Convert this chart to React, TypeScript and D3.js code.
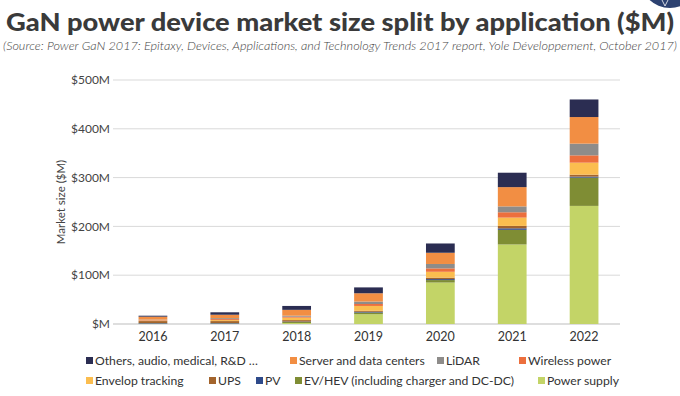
import React from "react";
import * as d3 from "d3";

const years = ["2016", "2017", "2018", "2019", "2020", "2021", "2022"];

// stacked from bottom to top
const seriesNames = [
  "Power supply",
  "EV/HEV (including charger and DC-DC)",
  "PV",
  "UPS",
  "Envelop tracking",
  "Wireless power",
  "LiDAR",
  "Server and data centers",
  "Others, audio, medical, R&D …",
];

const powerSupply = [0.5, 0.5, 2, 20, 85, 163, 242];
const evHev = [0.5, 0.5, 2, 3.5, 5, 30, 58];
const pv = [1, 1, 1, 1.5, 2, 3, 2];
const ups = [4, 4, 3, 2, 3, 5, 4];
const envelop = [1, 2, 5, 10, 12, 17, 24.6];
const wireless = [1, 2, 2, 4, 7, 11, 15];
const lidar = [1, 2, 2, 5, 9, 12, 24];
const server = [6, 7, 12, 17, 23, 39.5, 54.5];
const others = [2, 5, 8, 12, 19, 29.5, 36];

const seriesValues = [powerSupply, evHev, pv, ups, envelop, wireless, lidar, server, others];

const colors = [
  "#c3d467",
  "#7f8d34",
  "#2e4a8a",
  "#a3642c",
  "#fbbd4f",
  "#ec6f3d",
  "#8e8c8a",
  "#f28e43",
  "#2b2d52",
];

const yTicks = [0, 100, 200, 300, 400, 500];

// legend rows, in display order
const legendRow1 = [8, 7, 6, 5];
const legendRow2 = [4, 3, 2, 1, 0];
const legendX1 = [86, 290, 437, 519];
const legendX2 = [86, 209, 256, 295, 538];

const W = 680;
const H = 396;
const font = "Lato, 'Open Sans', sans-serif";

export default function App() {
  const margin = { left: 117, right: 60, top: 80, bottom: 72 };

  const x = d3
    .scaleBand()
    .domain(years)
    .range([margin.left, W - margin.right])
    .paddingInner(0.6)
    .paddingOuter(0.3);

  const y = d3.scaleLinear().domain([0, 500]).range([H - margin.bottom, margin.top]);

  const table = years.map((yr, i) => {
    const row: any = { year: yr };
    seriesNames.forEach((s, k) => (row[s] = seriesValues[k][i]));
    return row;
  });

  const stacked = d3.stack().keys(seriesNames)(table);

  return (
    <svg width={W} height={H} style={{ position: "absolute", left: 0, top: 0, background: "#fff" }}>
      <circle cx={670} cy={-22} r={30} fill="#2d4271" />
      <path d="M662,0 L665,6 L668,0" stroke="#fff" strokeWidth={0.8} fill="none" />
      <text
        x={W / 2}
        y={31}
        textAnchor="middle"
        fontFamily={font}
        fontWeight="900"
        fontSize={25}
        textLength={668}
        lengthAdjust="spacingAndGlyphs"
        fill="#3a3a3a"
      >
        GaN power device market size split by application ($M)
      </text>
      <text
        x={W / 2}
        y={50}
        textAnchor="middle"
        fontFamily={font}
        fontStyle="italic"
        fontWeight="300"
        fontSize={12}
        textLength={674}
        lengthAdjust="spacingAndGlyphs"
        fill="#444"
      >
        (Source: Power GaN 2017: Epitaxy, Devices, Applications, and Technology Trends 2017 report, Yole Développement, October 2017)
      </text>

      {yTicks.map((t) => (
        <g key={t}>
          <line
            x1={margin.left - 4}
            x2={W - margin.right}
            y1={y(t)}
            y2={y(t)}
            stroke={t === 0 ? "#bdbdbd" : "#d9d9d9"}
            strokeWidth={1}
          />
          <text
            x={margin.left - 7}
            y={y(t)}
            dy="0.35em"
            textAnchor="end"
            fontFamily={font}
            fontSize={12}
            fill="#444"
          >
            {"$" + (t === 0 ? "" : t) + "M"}
          </text>
        </g>
      ))}

      <text
        transform={`translate(65,${(y(0) + y(500)) / 2}) rotate(-90)`}
        textAnchor="middle"
        fontFamily={font}
        fontSize={11.5}
        fill="#444"
      >
        Market size ($M)
      </text>

      {stacked.map((layer, k) => (
        <g key={k} fill={colors[k]}>
          {layer.map((d, i) => (
            <rect
              key={i}
              x={x(years[i])}
              width={x.bandwidth()}
              y={y(d[1])}
              height={Math.max(0, y(d[0]) - y(d[1]))}
            />
          ))}
        </g>
      ))}

      {years.map((yr) => (
        <text
          key={yr}
          x={(x(yr) as number) + x.bandwidth() / 2}
          y={y(0) + 17}
          textAnchor="middle"
          fontFamily={font}
          fontSize={12.5}
          fill="#333"
        >
          {yr}
        </text>
      ))}

      {legendRow1.map((k, j) => (
        <g key={k} transform={`translate(${legendX1[j]},361)`}>
          <rect x={0} y={-4} width={7} height={7} fill={colors[k]} />
          <text x={9} y={0} dy="0.35em" fontFamily={font} fontSize={12.2} fill="#333">
            {seriesNames[k]}
          </text>
        </g>
      ))}
      {legendRow2.map((k, j) => (
        <g key={k} transform={`translate(${legendX2[j]},381)`}>
          <rect x={0} y={-4} width={7} height={7} fill={colors[k]} />
          <text x={9} y={0} dy="0.35em" fontFamily={font} fontSize={12.2} fill="#333">
            {seriesNames[k]}
          </text>
        </g>
      ))}
    </svg>
  );
}
